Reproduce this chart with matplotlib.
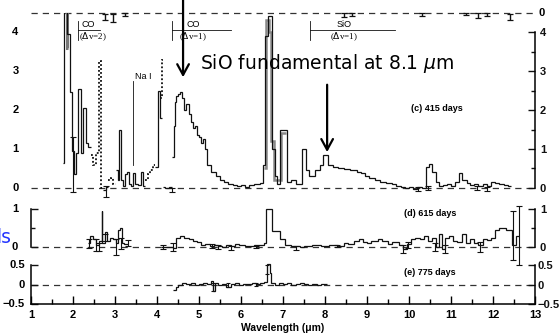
import matplotlib
matplotlib.use("Agg")
from matplotlib import pyplot as plt
from matplotlib.ticker import MultipleLocator, FixedLocator

# ---------------------------------------------------------------------------
# residual spectra (flux vs wavelength in micron), histogram bins: left edges
# ---------------------------------------------------------------------------

# (c) 415 days
c_a_x = [1.77, 1.78, 1.86, 1.93, 1.98, 2.03, 2.07, 2.12, 2.18, 2.24, 2.30, 2.36]
c_a_y = [0.64, 4.7, 3.95, 2.45, 0.95, 0.35, 0.9, 2.55, 0.9, 2.05, 1.15, 1.05]
c_a_end = 2.42

c_dot_a_x = [2.42, 2.48, 2.54, 2.61, 2.67]
c_dot_a_y = [0.85, 0.6, 0.9, 3.25, 0.0]
c_dot_a_end = 2.74

c_b_x = [2.72, 2.78]
c_b_y = [-0.05, 0.02]
c_b_end = 2.84

c_dot_b_x = [2.84, 2.90, 2.96]
c_dot_b_y = [0.2, 0.25, 0.1]
c_dot_b_end = 3.02

c_c_x = [3.02, 3.06, 3.10, 3.14, 3.18, 3.24, 3.28, 3.33, 3.38, 3.43, 3.48, 3.55, 3.62, 3.67]
c_c_y = [0.45, 0.2, 1.5, 0.2, 0.05, 0.35, 0.4, 0.1, 0.05, 0.38, 0.1, 0.08, 0.4, 0.05]
c_c_end = 3.72

c_dot_c_x = [3.72, 3.78, 3.84, 3.90]
c_dot_c_y = [0.2, 0.35, 0.45, 0.6]
c_dot_c_end = 3.96

c_d_x = [3.96, 4.02, 4.07]
c_d_y = [0.55, 2.5, 1.8]
c_d_end = 4.11

c_dot_d_x = [4.07, 4.11]
c_dot_d_y = [2.3, 3.28]
c_dot_d_end = 4.15

c_e_x = [4.14, 4.20, 4.28]
c_e_y = [0.02, 0.0, 0.03]
c_e_end = 4.36

c_main_x = [4.36, 4.40, 4.43, 4.46, 4.50, 4.55, 4.60, 4.65, 4.70, 4.75,
            4.80, 4.85, 4.90, 4.95, 5.00, 5.05, 5.10, 5.15, 5.20, 5.28,
            5.40, 5.50, 5.60, 5.70, 5.80, 5.90, 6.00, 6.10, 6.20, 6.30,
            6.45, 6.52, 6.58, 6.64, 6.74, 6.80, 6.86, 6.93, 7.10, 7.20,
            7.30, 7.45, 7.55, 7.62, 7.75, 7.88, 7.95, 8.08, 8.20, 8.30,
            8.45, 8.60, 8.75, 8.85, 8.95, 9.05, 9.20, 9.30, 9.45, 9.60,
            9.70, 9.80, 9.90, 10.00, 10.10, 10.20, 10.30, 10.40, 10.48, 10.55,
            10.65, 10.72, 10.80, 10.90, 11.00, 11.10, 11.20, 11.27, 11.37, 11.45,
            11.55, 11.65, 11.75, 11.85, 11.95, 12.05, 12.15, 12.25, 12.35]
c_main_y = [0.8, 1.6, 2.2, 2.35, 2.4, 2.45, 2.3, 2.0, 2.15, 1.9,
            1.7, 1.55, 1.6, 1.35, 1.3, 1.15, 1.25, 1.0, 0.6, 0.42,
            0.3, 0.2, 0.15, 0.1, 0.07, 0.05, 0.08, 0.03, 0.08, 0.1,
            0.12, 0.6, 3.9, 4.4, 1.0, 0.3, 0.1, 1.5, 0.15, 0.2,
            0.1, 1.0, 0.45, 0.3, 0.45, 0.6, 0.85, 0.58, 0.55, 0.52,
            0.48, 0.46, 0.42, 0.38, 0.32, 0.25, 0.2, 0.15, 0.13, 0.1,
            0.05, 0.02, 0.0, 0.03, -0.02, 0.02, 0.0, 0.55, 0.62, 0.4,
            0.15, 0.05, 0.08, 0.1, 0.05, 0.15, 0.38, 0.2, 0.12, 0.08,
            0.1, 0.05, 0.1, 0.05, 0.15, 0.12, 0.1, 0.08, 0.05]
c_main_end = 12.42

# second (grey) reduction over the strongest features
c_alt_x = [1.79, 1.85, 6.55, 6.60, 6.66, 6.72, 6.78, 6.95]
c_alt_y = [4.7, 3.6, 0.5, 4.3, 4.0, 1.2, 0.2, 1.4]
c_alt_end = 7.08

c_err_x = [2.00, 2.79, 4.36, 10.22, 10.45, 11.62, 11.86]
c_err_y = [0.6, -0.1, -0.05, -0.02, 0.0, 0.0, -0.02]
c_err_e = [0.7, 0.14, 0.06, 0.05, 0.04, 0.05, 0.05]

# bottom of the 300-day panel just above
b_err_x = [2.76, 2.95, 3.24, 8.45, 8.65, 10.3, 11.35, 11.65, 11.85, 12.4]
b_err_y = [-0.09, -0.11, -0.04, -0.05, -0.03, -0.04, -0.02, -0.06, -0.03, -0.1]
b_err_e = [0.08, 0.1, 0.04, 0.05, 0.04, 0.04, 0.03, 0.06, 0.04, 0.08]

# (d) 615 days
d_a_x = [2.35, 2.40, 2.48, 2.55, 2.62, 2.68, 2.70, 2.76, 2.82, 2.88, 2.95, 3.02, 3.08, 3.13, 3.17, 3.22]
d_a_y = [0.1, 0.3, 0.2, 0.05, 0.15, 0.95, 0.1, 0.4, 0.15, 0.25, 0.2, 0.1, 0.45, 0.5, 0.1, 0.08]
d_a_end = 3.30

d_b_x = [4.10, 4.25, 4.37, 4.45, 4.55, 4.65, 4.75, 4.85, 4.95, 5.05,
         5.15, 5.25, 5.35, 5.45, 5.55, 5.65, 5.75, 5.85, 5.95, 6.10,
         6.20, 6.30, 6.45, 6.55, 6.60, 6.73, 6.93, 7.05, 7.20, 7.40,
         7.50, 7.70, 7.90, 8.10, 8.30, 8.45, 8.55, 8.70, 8.80, 8.90,
         9.00, 9.10, 9.25, 9.35, 9.50, 9.60, 9.75, 9.85, 9.95, 10.05,
         10.15, 10.25, 10.35, 10.45, 10.55, 10.65, 10.72, 10.78, 10.85, 10.95,
         11.05, 11.15, 11.25, 11.35, 11.45, 11.55, 11.65, 11.75, 11.85, 11.95,
         12.05, 12.15, 12.30, 12.45, 12.55]
d_b_y = [0.0, 0.0, -0.02, 0.25, 0.3, 0.25, 0.2, 0.15, 0.12, 0.05,
         0.08, 0.02, 0.05, 0.03, 0.0, 0.05, 0.02, 0.08, 0.05, 0.03,
         0.02, 0.04, 0.05, 0.1, 1.0, 0.42, 0.2, 0.05, 0.03, 0.0,
         0.03, 0.05, 0.03, 0.05, 0.02, 0.1, 0.08, 0.15, 0.2, 0.12,
         0.1, 0.15, 0.2, 0.15, 0.08, 0.12, 0.05, -0.05, 0.08, 0.2,
         0.25, 0.2, 0.28, 0.15, 0.25, 0.0, 0.35, -0.05, 0.25, 0.3,
         0.15, 0.12, 0.35, 0.1, 0.2, 0.1, 0.05, 0.2, 0.18, 0.25,
         0.45, 0.5, 0.45, 0.05, 0.3]
d_b_end = 12.62

d_err_x = [2.38, 2.55, 2.62, 2.75, 3.02, 3.15, 3.30, 4.14, 4.37, 5.30, 5.45, 5.75,
           6.35, 7.30, 8.28, 9.86, 9.98, 10.62, 10.86, 11.69, 12.48, 12.62]
d_err_y = [0.1, 0.05, 0.0, 0.25, 0.0, 0.1, 0.1, 0.0, 0.0, 0.02, 0.0, -0.02,
           0.0, -0.02, 0.03, -0.05, 0.05, 0.0, -0.05, 0.0, 0.3, 0.3]
d_err_e = [0.12, 0.15, 0.1, 0.1, 0.2, 0.15, 0.08, 0.05, 0.1, 0.05, 0.05, 0.05,
           0.03, 0.05, 0.03, 0.1, 0.08, 0.1, 0.1, 0.12, 0.65, 0.78]

# (e) 775 days
e_x = [4.38, 4.45, 4.50, 4.60, 4.70, 4.80, 4.90, 5.00, 5.10, 5.20,
       5.28, 5.33, 5.38, 5.45, 5.55, 5.65, 5.75, 5.85, 5.95, 6.05,
       6.15, 6.25, 6.35, 6.45, 6.55, 6.62, 6.68, 6.72, 6.80, 6.90,
       7.00, 7.10, 7.20, 7.30, 7.40, 7.50, 7.60, 7.70, 7.80, 7.90]
e_y = [-0.13, -0.05, 0.0, 0.05, 0.02, 0.04, 0.0, 0.03, 0.05, 0.02,
       0.1, -0.15, 0.05, 0.0, 0.03, -0.05, 0.02, 0.05, 0.0, 0.03,
       0.02, 0.05, 0.02, 0.05, 0.08, 0.55, 0.3, 0.05, 0.0, 0.05,
       0.02, 0.04, 0.0, 0.03, 0.05, 0.02, 0.0, 0.03, 0.01, 0.02]
e_end = 8.05

e_err_x = [5.33, 5.70, 6.35, 6.62]
e_err_y = [-0.05, 0.0, 0.02, 0.4]
e_err_e = [0.1, 0.04, 0.04, 0.12]

# axis ticks
c_ticks = [0, 1, 2, 3, 4]
c_minor = [0.5, 1.5, 2.5, 3.5]
d_ticks = [0, 1]
d_minor = [0.5]
e_ticks = [-0.5, 0, 0.5]
e_ticklabels = ["\u22120.5", "0", "0.5"]

# band markers: (label, sub-label, start, end) and Na I line
bands = [("CO", r"($\Delta$v=2)", 2.12, 2.65),
         ("CO", r"($\Delta$v=1)", 4.36, 5.76),
         ("SiO", r"($\Delta$v=1)", 7.64, 9.67)]
nai_x = 3.43

sio_x = 8.05
sio_peak = 0.85
co_x = 4.62
co_peak = 2.77

TICK_FONT = dict(family="Liberation Sans", weight="bold", size=8)
INK = "#111111"


def draw_hist(ax, xs, ys, end, **kw):
    ax.stairs(ys, xs + [end], baseline=None, **kw)


def style_axis(ax, ylim, ticks, minor, labels, left_x, right_pad, show_left_spine=True):
    """Bracket-style y spines on both sides, labels drawn as text on the left."""
    ax.set_xlim(1, 13)
    ax.set_ylim(*ylim)
    ax.patch.set_alpha(0)
    ax.yaxis.set_major_locator(FixedLocator(ticks))
    ax.yaxis.set_minor_locator(FixedLocator(minor))
    ax.spines["top"].set_visible(False)
    ax.spines["bottom"].set_visible(False)
    bounds = (min(ticks), max(ticks))
    ax.spines["right"].set_bounds(*bounds)
    ax.spines["left"].set_bounds(*bounds)
    ax.spines["left"].set_visible(show_left_spine)
    for side in ("left", "right"):
        ax.spines[side].set_linewidth(1.1)
    ax.tick_params(axis="x", bottom=False, labelbottom=False)
    ax.tick_params(axis="y", which="both", direction="in", right=True, labelright=True,
                   left=show_left_spine, labelleft=False, width=1.0, colors=INK,
                   pad=right_pad)
    ax.tick_params(axis="y", which="major", length=5)
    ax.tick_params(axis="y", which="minor", length=3)
    ax.set_yticks(ticks, labels)
    for lab in ax.get_yticklabels():
        lab.set(**TICK_FONT)
    for t, s in zip(ticks, labels):
        ax.text(left_x, t, s, transform=ax.get_yaxis_transform(), ha="right",
                va="center", **TICK_FONT)
    ax.axhline(0, color="#333333", lw=0.9, ls=(0, (5, 4)), zorder=1)


fig = plt.figure(figsize=(5.6, 3.36), dpi=100)

ax_c = fig.add_axes([0.0554, 0.4057, 0.9, 0.557])
ax_d = fig.add_axes([0.0554, 0.2083, 0.9, 0.181])
ax_e = fig.add_axes([0.0554, 0.0938, 0.9, 0.1277])

# ---- (c) 415 days ----------------------------------------------------------
style_axis(ax_c, (-0.3, 4.5), c_ticks, c_minor, [str(t) for t in c_ticks],
           -0.025, 3.5, show_left_spine=False)

line_kw = dict(color=INK, lw=0.9, zorder=3)
dot_kw = dict(color=INK, lw=1.3, ls=(0, (1, 1.2)), zorder=3)
draw_hist(ax_c, c_alt_x[:2], c_alt_y[:2], 1.88, color="#777777", lw=2.2, zorder=2)
draw_hist(ax_c, c_alt_x[2:], c_alt_y[2:], c_alt_end, color="#888888", lw=1.8, zorder=2)
draw_hist(ax_c, c_a_x, c_a_y, c_a_end, **line_kw)
draw_hist(ax_c, c_dot_a_x, c_dot_a_y, c_dot_a_end, **dot_kw)
draw_hist(ax_c, c_b_x, c_b_y, c_b_end, **line_kw)
draw_hist(ax_c, c_dot_b_x, c_dot_b_y, c_dot_b_end, **dot_kw)
draw_hist(ax_c, c_c_x, c_c_y, c_c_end, **line_kw)
draw_hist(ax_c, c_dot_c_x, c_dot_c_y, c_dot_c_end, **dot_kw)
draw_hist(ax_c, c_d_x, c_d_y, c_d_end, **line_kw)
draw_hist(ax_c, c_dot_d_x, c_dot_d_y, c_dot_d_end, **dot_kw)
draw_hist(ax_c, c_e_x, c_e_y, c_e_end, **line_kw)
draw_hist(ax_c, c_main_x, c_main_y, c_main_end, **line_kw)
ax_c.errorbar(c_err_x, c_err_y, yerr=c_err_e, fmt="none", ecolor=INK,
              elinewidth=0.8, capsize=2, capthick=0.8, zorder=3)

# baseline of the panel above, cut by the frame
top0 = 4.48
ax_c.axhline(top0, color="#333333", lw=0.9, ls=(0, (5, 4)), zorder=1, clip_on=False)
ax_c.errorbar(b_err_x, [top0 + v for v in b_err_y], yerr=b_err_e, fmt="none",
              ecolor=INK, elinewidth=1.0, capsize=2, capthick=0.9, clip_on=False)
ax_c.text(1.006, top0, "0", transform=ax_c.get_yaxis_transform(), ha="left",
          va="center", **TICK_FONT)

# band identifications
for name, sub, x0, x1 in bands:
    ax_c.plot([x0, x0], [3.8, 4.28], color=INK, lw=0.6)
    ax_c.plot([x0, x1], [4.05, 4.05], color=INK, lw=0.6)
    narrow = x1 - x0 < 1
    xc = x0 + 0.08 if narrow else (x0 + x1) / 2 - 0.2
    ha = "left" if narrow else "center"
    ax_c.text(xc, 4.07, name, ha=ha, va="bottom", fontsize=6.5, family="Liberation Sans")
    ax_c.text(xc - (0.05 if narrow else 0), 4.03, sub, ha=ha, va="top",
              fontsize=6.5, family="Liberation Serif")
ax_c.plot([nai_x, nai_x], [0.59, 2.74], color=INK, lw=0.6)
ax_c.text(nai_x + 0.05, 2.75, "Na I", ha="left", va="bottom", fontsize=6.5,
          family="Liberation Sans")

ax_c.text(10.67, 2.05, "(c) 415 days", ha="center", va="center",
          fontsize=6.5, weight="bold", family="Liberation Sans")

# ---- (d) 615 days ----------------------------------------------------------
style_axis(ax_d, (-0.5, 1.1), d_ticks, d_minor, [str(t) for t in d_ticks],
           -0.026, 3.5)
draw_hist(ax_d, d_a_x, d_a_y, d_a_end, **line_kw)
draw_hist(ax_d, d_b_x, d_b_y, d_b_end, **line_kw)
ax_d.errorbar(d_err_x, d_err_y, yerr=d_err_e, fmt="none", ecolor=INK,
              elinewidth=0.8, capsize=2, capthick=0.8, zorder=3, clip_on=False)
ax_d.text(10.5, 0.87, "(d) 615 days", ha="center", va="center",
          fontsize=6.5, weight="bold", family="Liberation Sans")

# ---- (e) 775 days ----------------------------------------------------------
style_axis(ax_e, (-0.5, 0.6), e_ticks, [], e_ticklabels, -0.012, 1.5)
ax_e.spines["bottom"].set_visible(True)
ax_e.spines["bottom"].set_linewidth(1.1)
ax_e.xaxis.set_major_locator(MultipleLocator(1))
ax_e.xaxis.set_minor_locator(MultipleLocator(0.5))
ax_e.tick_params(axis="x", which="both", bottom=True, labelbottom=True,
                 direction="in", width=1.0, pad=4)
ax_e.tick_params(axis="x", which="major", length=6)
ax_e.tick_params(axis="x", which="minor", length=3.5)
for lab in ax_e.get_xticklabels():
    lab.set(**TICK_FONT)
draw_hist(ax_e, e_x, e_y, e_end, **line_kw)
ax_e.errorbar(e_err_x, e_err_y, yerr=e_err_e, fmt="none", ecolor=INK,
              elinewidth=0.8, capsize=1.5, capthick=0.8, zorder=3)
ax_e.text(10.5, 0.33, "(e) 775 days", ha="center", va="center",
          fontsize=6.5, weight="bold", family="Liberation Sans")
ax_e.set_xlabel("Wavelength (\u03bcm)", fontsize=7.5, weight="bold",
                family="Liberation Sans", labelpad=2)

# ---- overlay annotations -----------------------------------------------------
arrow_kw = dict(arrowstyle="->,head_length=0.55,head_width=0.3", lw=1.6,
                color="black", mutation_scale=14)
ax_c.annotate("", xy=(co_x, co_peak), xytext=(co_x, 4.95),
              arrowprops=arrow_kw, annotation_clip=False)
ax_c.annotate("", xy=(sio_x, sio_peak), xytext=(sio_x, 2.72),
              arrowprops=arrow_kw, annotation_clip=False)
fig.text(0.584, 0.81, r"SiO fundamental at 8.1 $\mu$m", ha="center", va="center",
         fontsize=13.5, color="black")
fig.text(0.020, 0.292, "ls", ha="right", va="center", fontsize=13.5, color="#2233ff")

fig.savefig("out.png", dpi=100)
